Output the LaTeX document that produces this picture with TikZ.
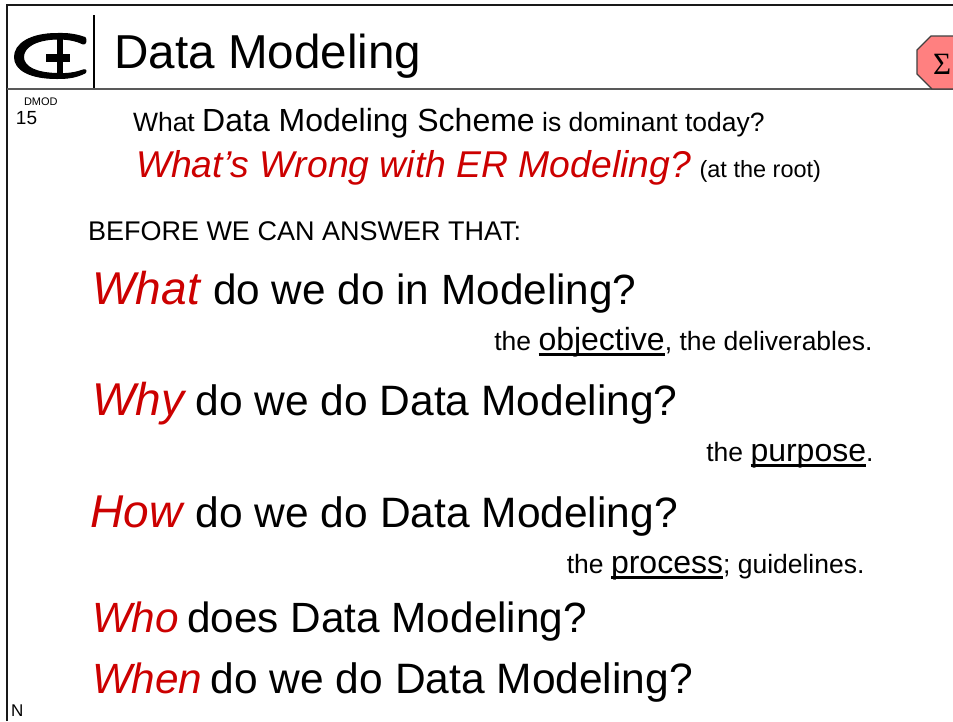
\documentclass[tikz,border=0pt]{standalone}
\usepackage{fontspec}
\setmainfont{Liberation Sans}
\newfontfamily\sigmafont{Liberation Serif}
\definecolor{redtxt}{RGB}{204,0,0}
\definecolor{octfill}{RGB}{255,128,128}
\newcommand{\fs}[1]{\fontsize{#1pt}{#1pt}\selectfont}
\newcommand{\rd}[2]{{\fs{#1}\color{redtxt}\itshape #2\/}}
\newcommand{\ulin}[1]{\setbox0\hbox{#1}\rlap{\rule[-6pt]{\wd0}{2.7pt}}\box0 }
\tikzset{txt/.style={anchor=base west,inner sep=0pt,outer sep=0pt,text=black},
 txte/.style={anchor=base east,inner sep=0pt,outer sep=0pt,text=black}}
\begin{document}
\begin{tikzpicture}[x=1pt,y=-1pt]
\useasboundingbox (0,0) rectangle (953,721);
\fill[white] (0,0) rectangle (953,721);
\begin{scope}
\clip (0,0) rectangle (953,721);
% frame
\draw[line width=2.6pt,black!90] (7,721) -- (7,5) -- (953,5);
\draw[line width=1.2pt,black!65] (7,89) -- (953,89);
% sigma box
\draw[fill=octfill,draw=black!75,line width=1.2pt] (931,36) -- (917,50) -- (917,74) -- (932,89) -- (960,89) -- (960,36) -- cycle;
\node[txt] (sigma) at (933,74) {\fs{31}\sigmafont Σ};
% logo
\filldraw[line width=1pt,line join=round] (85,37.5) .. controls (72,33) and (64,33.5) .. (57,33.5)
  .. controls (30,33.5) and (14.5,44) .. (14.5,57) .. controls (14.5,70) and (30,78.5) .. (57,78.5)
  .. controls (66,78.5) and (75,78) .. (85,73) .. controls (87,71) and (86,69) .. (83,70) .. controls (75,73) and (66,74) .. (57,73.5)
  .. controls (36,73) and (23.5,67) .. (23.5,57) .. controls (23.5,47) and (36,39.5) .. (57,39)
  .. controls (66,39) and (75,40) .. (83,44) .. controls (86,45) and (87,39) .. (85,37.5) -- cycle;
\fill (57,39) rectangle (63,74);
\fill (46,54) rectangle (70,62);
\draw[line width=1.3pt] (94,15) -- (94,88);
\end{scope}
\node[txt] (title) at (114.5,68) {\fs{47.6}Data Modeling};
\node[txt] (dmod) at (24,105) {\fs{11}DMOD};
\node[txt] (num) at (16,124) {\fs{19}15};
\node[txt] (q1) at (133,131) {\fs{26.5}What {\fs{32}Data Modeling Scheme} is dominant today?};
\node[txt] (q2) at (136,177) {\rd{37.3}{What’s Wrong with ER Modeling?}\fs{23.5} (at the root)};
\node[txt] (before) at (88,240) {\fs{27}BEFORE WE CAN ANSWER THAT:};
\node[txt] (what) at (92.5,304) {\rd{46}{What}\fs{42.3} do we do in Modeling?};
\node[txte] (whatn) at (872.5,350) {\fs{26.5}the {\fs{32}\ulin{objective}}, the deliverables.};
\node[txt] (why) at (92.5,415) {\rd{46}{Why}\fs{42.5}\hspace{-3pt} do we do Data Modeling?};
\node[txte] (whyn) at (873.5,461) {\fs{26.5}the {\fs{32}\ulin{purpose}}.};
\node[txt] (how) at (90.5,527) {\rd{46}{How}\fs{42.5}\hspace{-1pt} do we do Data Modeling?};
\node[txte] (hown) at (864.5,573) {\fs{26.5}the {\fs{32}\ulin{process}}; guidelines.};
\node[txt] (who) at (92,632) {\rd{42.3}{Who}\fs{42.3}\hspace{-3.5pt} does Data Modeling?};
\node[txt] (when) at (92,693) {\rd{42.3}{When}\fs{42.5}\hspace{-3.5pt} do we do Data Modeling?};
\node[txt] (n) at (11,716) {\fs{17}N};
\end{tikzpicture}
\end{document}
